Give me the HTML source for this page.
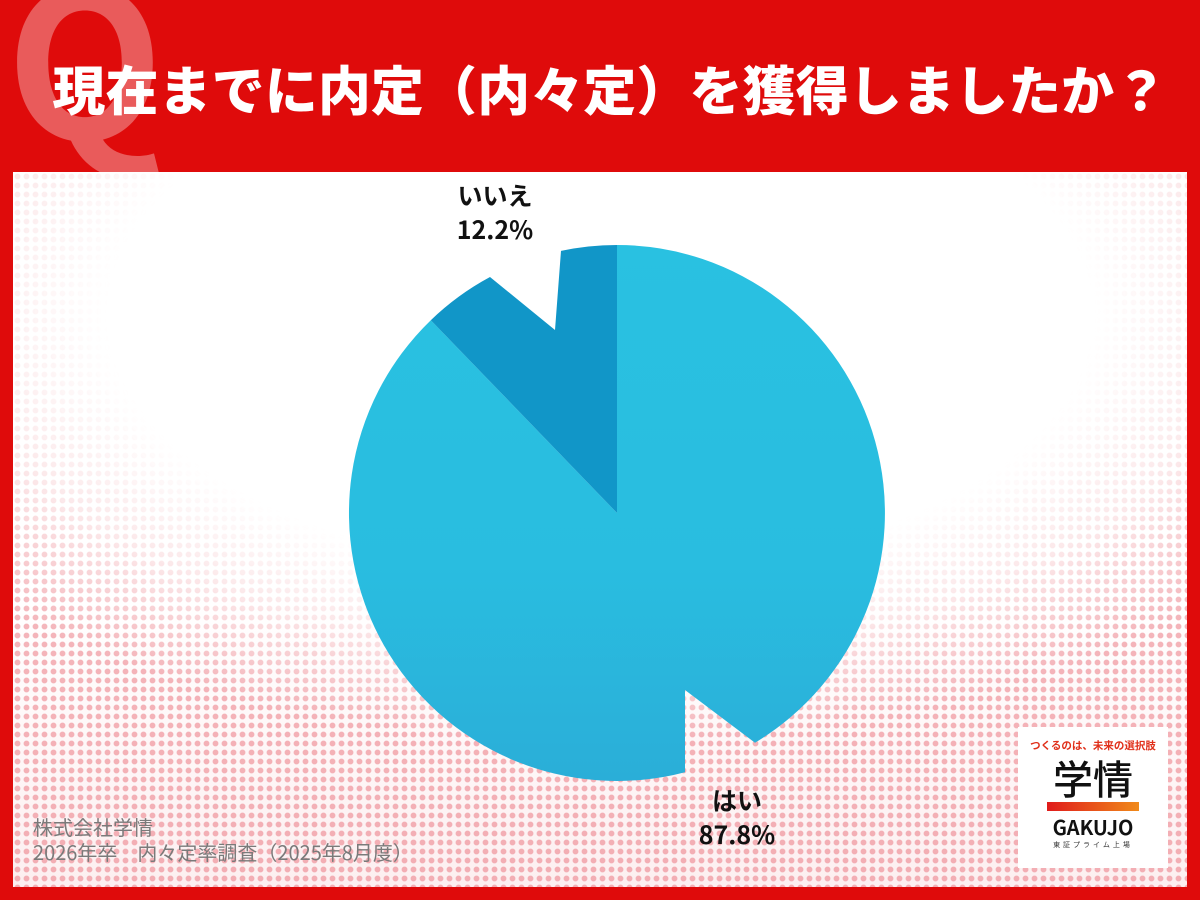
<!DOCTYPE html>
<html><head><meta charset="utf-8"><style>
html,body{margin:0;padding:0}
body{width:1200px;height:900px;background:#df0b0b;position:relative;overflow:hidden;font-family:"Liberation Sans","Noto Sans CJK JP",sans-serif}
.q{position:absolute;left:6px;top:-52px;font-size:205px;font-weight:bold;color:rgba(255,255,255,0.33);line-height:1;font-family:"Noto Sans CJK JP",sans-serif}
.title{position:absolute;left:10px;width:1200px;top:58px;text-align:center;color:#fff;font-weight:900;font-size:52.8px;line-height:60px;font-family:"Noto Sans CJK JP",sans-serif;letter-spacing:0.3px}
.panel{position:absolute;left:13px;top:172px;width:1174px;height:715px;background:#fff;overflow:hidden}
.dots{position:absolute;left:0;top:0;width:100%;height:100%;
background-image:radial-gradient(circle,rgba(235,120,130,0.55) 2.6px,transparent 3.2px);background-size:9px 9px;
-webkit-mask-image:radial-gradient(ellipse 70% 60% at 50% 20%,transparent 60%,rgba(0,0,0,0.3) 78%,#000 100%);
mask-image:radial-gradient(ellipse 70% 60% at 50% 20%,transparent 60%,rgba(0,0,0,0.3) 78%,#000 100%)}
.pink{position:absolute;left:0;top:0;width:100%;height:100%;background:linear-gradient(to bottom,rgba(255,255,255,0) 60%,rgba(245,190,195,0.25) 100%)}
.lbl{position:absolute;text-align:center;font-weight:bold;font-size:25px;line-height:34px;color:#111;font-family:"Noto Sans CJK JP",sans-serif}
.foot{position:absolute;left:33px;top:814px;color:#7a7a7a;font-size:20px;line-height:25px;font-family:"Noto Sans CJK JP",sans-serif;font-weight:400}
.logo{position:absolute;left:1018px;top:727px;width:150px;height:141px;background:#fff;text-align:center;font-family:"Noto Sans CJK JP",sans-serif}
</style></head><body>
<div class="q">Q</div>
<div class="title">現在までに内定（内々定）を獲得しましたか？</div>
<div class="panel"><div class="pink"></div><div class="dots"></div></div>
<svg width="1200" height="900" style="position:absolute;left:0;top:0">
<defs><linearGradient id="g" x1="0" y1="0" x2="0" y2="1"><stop offset="0" stop-color="#29c1e1"/><stop offset="0.6" stop-color="#29bde0"/><stop offset="1" stop-color="#2aaed8"/></linearGradient></defs>
<path d="M617,513 L617,245 A268,268 0 0,1 755,742.7 L685,690 L685,772.2 A268,268 0 0,1 430.8,320.2 Z" fill="url(#g)"/>
<path d="M617,513 L617,245 A268,268 0 0,0 561,250.9 L555,330 L490,277 A268,268 0 0,0 430.8,320.2 Z" fill="#1196c8"/>
</svg>
<div class="lbl" style="left:420px;top:178px;width:150px">いいえ<br>12.2%</div>
<div class="lbl" style="left:662px;top:783px;width:150px">はい<br>87.8%</div>
<div class="foot">株式会社学情<br>2026年卒　内々定率調査（2025年8月度）</div>
<div class="logo">
<div style="color:#e0301a;font-size:10.5px;font-weight:bold;margin-top:11px">つくるのは、未来の選択肢</div>
<div style="font-size:40px;line-height:44px;color:#111;margin-top:2px;font-weight:500">学情</div>
<div style="width:92px;height:9px;margin:3px auto 0;background:linear-gradient(to right,#e01b1b,#f08a1a)"></div>
<div style="font-size:20px;font-weight:bold;color:#111;line-height:26px;margin-top:3px">GAKUJO</div>
<div style="font-size:7px;color:#333;letter-spacing:3px">東証プライム上場</div>
</div>
</body></html>
